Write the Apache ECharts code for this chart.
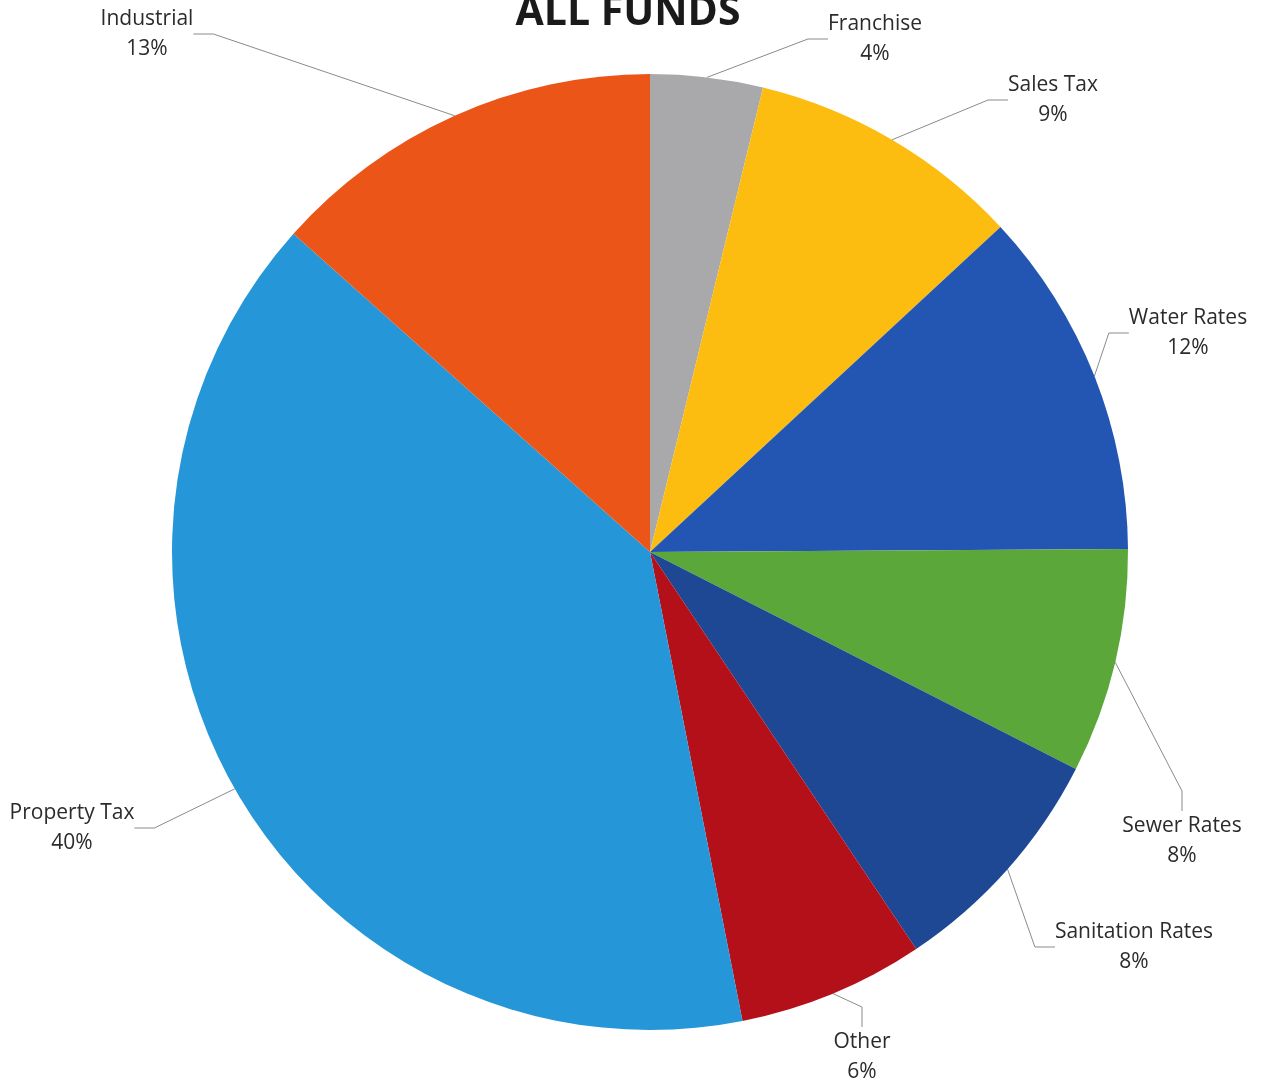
<!DOCTYPE html>
<html>
<head>
<meta charset="utf-8">
<script src="https://cdn.jsdelivr.net/npm/echarts@6/dist/echarts.min.js"></script>
<style>
  html, body { margin: 0; padding: 0; background: #fff; }
  #chart { width: 1268px; height: 1088px; }
</style>
</head>
<body>
<div id="chart"></div>
<script>
  // 数据
  const categories = ['Franchise', 'Sales Tax', 'Water Rates', 'Sewer Rates', 'Sanitation Rates', 'Other', 'Property Tax', 'Industrial']
  const values = [3.8, 9.3, 11.8, 7.6, 8.1, 6.3, 39.7, 13.4]
  const colors = ['#a9a9ab', '#fdbd10', '#2356b2', '#5ba73a', '#1e4794', '#b3101a', '#2597d8', '#ec5518']
  // 标签位置 (label block centre)
  const labelPos = [[875, 39], [1053, 100], [1188, 333], [1182, 841], [1134, 947], [862, 1057], [72, 828], [147, 34]]

  const chart = echarts.init(document.getElementById('chart'))
  const option = {
    animation: false,
    title: {
      text: 'ALL FUNDS',
      left: 623,
      top: -12,
      textAlign: 'center',
      textStyle: {
        fontFamily: 'Open Sans',
        fontWeight: 'bold',
        fontSize: 41,
        color: '#1a1a1a'
      }
    },
    series: [{
      type: 'pie',
      center: [650, 552],
      radius: [0, 478],
      startAngle: 90,
      clockwise: true,
      data: categories.map(function(name, i) {
        return { name: name, value: values[i], itemStyle: { color: colors[i] } }
      }),
      label: {
        show: true,
        position: 'outside',
        formatter: function(p) {
          return p.name + '\n' + Math.round(p.percent) + '%'
        },
        fontFamily: 'Open Sans',
        fontSize: 21,
        lineHeight: 30,
        color: '#2b2b2b',
        align: 'center',
        overflow: 'none'
      },
      labelLine: {
        show: true,
        length: 20,
        length2: 20,
        lineStyle: { color: '#8a8a8a', width: 1 }
      },
      labelLayout: function(params) {
        const p = labelPos[params.dataIndex]
        return {
          x: p[0],
          y: p[1],
          align: 'center',
          verticalAlign: 'middle',
          moveOverlap: false
        }
      }
    }]
  }
  chart.setOption(option)
</script>
</body>
</html>
